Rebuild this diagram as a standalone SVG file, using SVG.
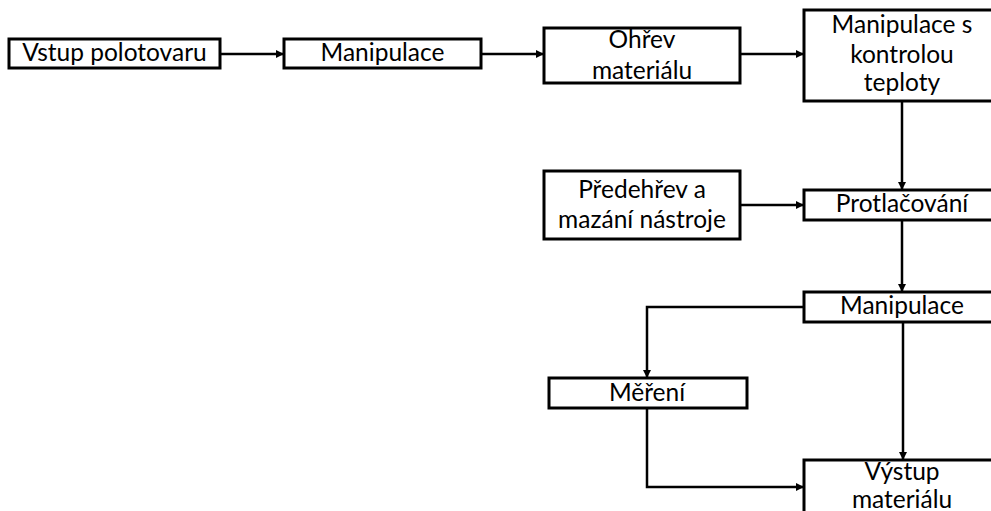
<svg xmlns="http://www.w3.org/2000/svg" width="991" height="511" viewBox="0 0 991 511">
<style>
.box{fill:#fff;stroke:#000;stroke-width:3}
.t{font-family:Lato,"Liberation Sans",sans-serif;font-size:24.5px;fill:#000;text-anchor:middle}
.c{fill:none;stroke:#000;stroke-width:2.5}
</style>
<defs>
<marker id="ah" viewBox="0 0 10 10" refX="10" refY="5" markerWidth="9" markerHeight="8" markerUnits="userSpaceOnUse" orient="auto">
<path d="M0,0 L10,5 L0,10 z" fill="#000"/>
</marker>
</defs>
<rect width="991" height="511" fill="#fff"/>
<g id="connectors">
<line class="c" x1="220" y1="54" x2="284" y2="54" marker-end="url(#ah)"/>
<line class="c" x1="481" y1="54" x2="544" y2="54" marker-end="url(#ah)"/>
<line class="c" x1="740" y1="54" x2="804" y2="54" marker-end="url(#ah)"/>
<line class="c" x1="902" y1="101" x2="902" y2="190" marker-end="url(#ah)"/>
<line class="c" x1="740" y1="205" x2="804" y2="205" marker-end="url(#ah)"/>
<line class="c" x1="902" y1="220" x2="902" y2="292" marker-end="url(#ah)"/>
<polyline class="c" points="804,307 647,307 647,378" marker-end="url(#ah)"/>
<line class="c" x1="903" y1="322" x2="903" y2="460" marker-end="url(#ah)"/>
<polyline class="c" points="647,408 647,487 804,487" marker-end="url(#ah)"/>
</g>
<g id="n1"><rect class="box" x="9" y="39" width="211" height="29"/><text class="t" x="114.5" y="61">Vstup polotovaru</text></g>
<g id="n2"><rect class="box" x="284" y="39" width="197" height="29"/><text class="t" x="382.5" y="61">Manipulace</text></g>
<g id="n3"><rect class="box" x="544" y="28" width="196" height="55"/><text class="t" x="642" y="48">Ohřev</text><text class="t" x="642" y="79">materiálu</text></g>
<g id="n4"><rect class="box" x="804" y="10" width="196" height="91"/><text class="t" x="902" y="33">Manipulace s</text><text class="t" x="902" y="63">kontrolou</text><text class="t" x="902" y="91">teploty</text></g>
<g id="n5"><rect class="box" x="544" y="171" width="196" height="68"/><text class="t" x="642" y="198">Předehřev a</text><text class="t" x="642" y="228">mazání nástroje</text></g>
<g id="n6"><rect class="box" x="804" y="190" width="196" height="30"/><text class="t" x="902" y="212">Protlačování</text></g>
<g id="n7"><rect class="box" x="804" y="292" width="196" height="30"/><text class="t" x="902" y="314">Manipulace</text></g>
<g id="n8"><rect class="box" x="549" y="378" width="198" height="30"/><text class="t" x="647" y="401">Měření</text></g>
<g id="n9"><rect class="box" x="804" y="460" width="196" height="70"/><text class="t" x="902" y="480">Výstup</text><text class="t" x="902" y="508">materiálu</text></g>
</svg>
